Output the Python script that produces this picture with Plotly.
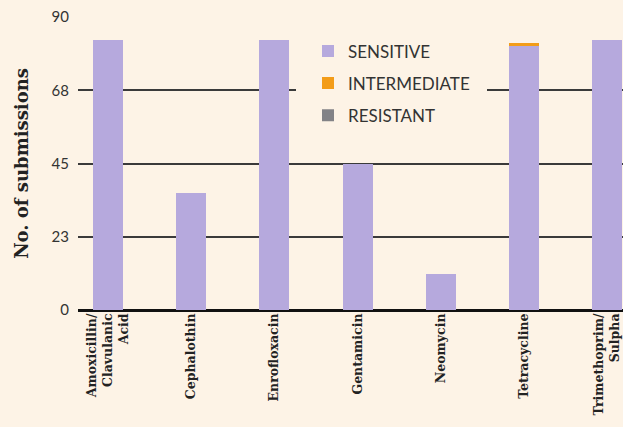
import plotly.graph_objects as go

antibiotics = [
    "Amoxicillin/<br>Clavulanic<br>Acid",
    "Cephalothin",
    "Enrofloxacin",
    "Gentamicin",
    "Neomycin",
    "Tetracycline",
    "Trimethoprim/<br>Sulpha",
]
sensitive = [83, 36, 83, 45, 11, 81, 83]
intermediate = [0, 0, 0, 0, 0, 1, 0]
resistant = [0, 0, 0, 0, 0, 0, 0]

y_ticks = [0, 22.5, 45, 67.5, 90]
y_tick_text = ["0", "23", "45", "68", "90"]

BACKGROUND = "#fdf3e6"
SERIF = "DejaVu Serif"
SANS = "Lato, Open Sans, sans-serif"

fig = go.Figure()
series = [
    ("SENSITIVE", sensitive, "#b6a9dd"),
    ("INTERMEDIATE", intermediate, "#f39c18"),
    ("RESISTANT", resistant, "#828286"),
]
for name, values, color in series:
    fig.add_trace(
        go.Bar(
            x=antibiotics,
            y=values,
            name=name,
            legendgroup=name,
            marker={"color": color, "line": {"width": 0}},
        )
    )

fig.update_layout(
    barmode="stack",
    bargap=0.64,
    width=623,
    height=427,
    paper_bgcolor=BACKGROUND,
    plot_bgcolor=BACKGROUND,
    margin={"l": 78, "r": 0, "t": 17, "b": 117},
    showlegend=True,
    legend={
        "x": 0.40,
        "y": 0.985,
        "xanchor": "left",
        "yanchor": "top",
        "bgcolor": BACKGROUND,
        "bordercolor": BACKGROUND,
        "borderwidth": 12,
        "font": {"family": SANS, "size": 17, "color": "#333333"},
        "tracegroupgap": 7,
        "traceorder": "grouped",
        "itemwidth": 30,
    },
)
fig.update_xaxes(
    range=[-0.36, 6.19],
    tickangle=-90,
    tickfont={"family": SERIF, "size": 12.5, "color": "#222222", "weight": "bold"},
    showgrid=False,
    ticks="",
    showline=False,
    zeroline=False,
)
fig.update_yaxes(
    range=[0, 90],
    tickvals=y_ticks,
    ticktext=y_tick_text,
    tickfont={"family": SANS, "size": 15, "color": "#333333"},
    ticklabelstandoff=8,
    showgrid=True,
    gridcolor="#3a3a3a",
    gridwidth=1.5,
    zeroline=True,
    zerolinecolor="#111111",
    zerolinewidth=3,
    title={
        "text": "<b>No. of submissions</b>",
        "font": {"family": SERIF, "size": 18, "color": "#222222"},
        "standoff": 18,
    },
)

fig.write_html(
    "out.html",
    config={"displayModeBar": False},
    post_script="document.body.style.margin = '0';",
)
